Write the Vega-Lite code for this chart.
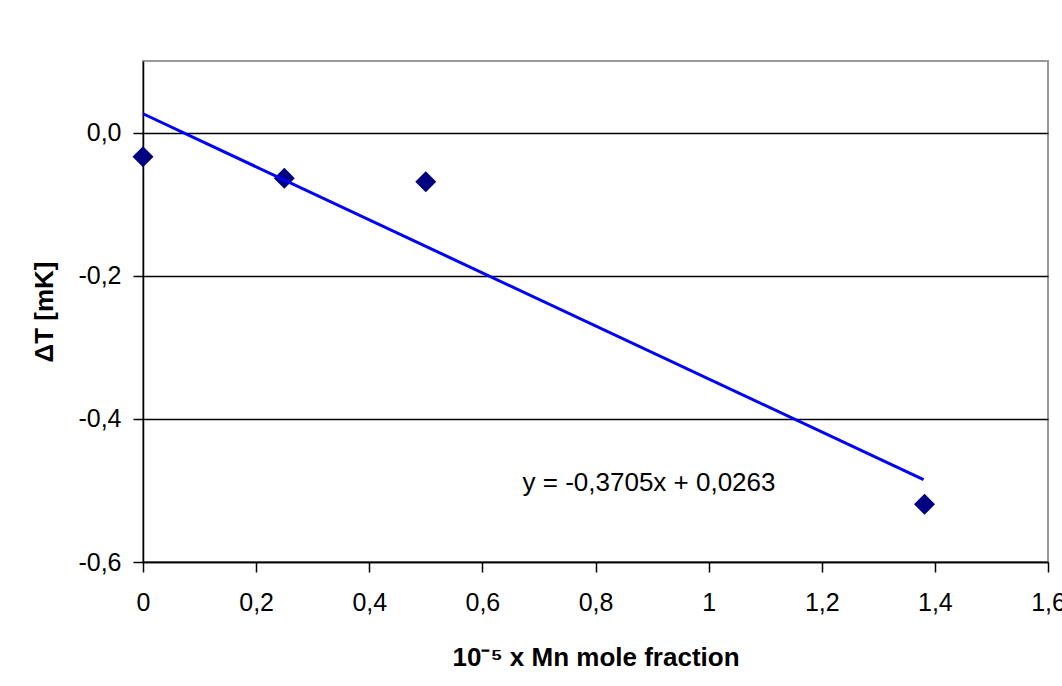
{
  "$schema": "https://vega.github.io/schema/vega-lite/v6.json",
  "width": 905,
  "height": 501,
  "autosize": {"type": "none"},
  "padding": {"left": 143, "top": 61, "right": 14, "bottom": 124},
  "background": "white",
  "config": {
    "locale": {"number": {"decimal": ",", "thousands": ".", "grouping": [3], "currency": ["", " €"], "minus": "-"}},
    "font": "Liberation Sans",
    "view": {"stroke": "#999999", "strokeWidth": 2},
    "axis": {"labelFont": "Liberation Sans", "titleFont": "Liberation Sans", "labelColor": "#000000", "titleColor": "#000000", "domainColor": "#000000", "tickColor": "#000000", "labelFontSize": 25, "titleFontSize": 26, "titleFontWeight": "bold", "domainWidth": 1.5, "tickWidth": 1.5}
  },
  "datasets": {
    "points": [
      {"x": 0, "y": -0.0337},
      {"x": 0.2498, "y": -0.0639},
      {"x": 0.4999, "y": -0.0686},
      {"x": 1.3817, "y": -0.5194}
    ],
    "trend": [
      {"x": 0, "y": 0.0263},
      {"x": 1.38, "y": -0.485}
    ],
    "label": [
      {"x": 0.8946, "y": -0.4896, "text": "y = -0,3705x + 0,0263"}
    ]
  },
  "layer": [
    {
      "data": {"name": "points"},
      "mark": {"type": "point", "shape": "diamond", "filled": true, "color": "#000080", "size": 440, "opacity": 1},
      "encoding": {
        "x": {"field": "x", "type": "quantitative", "scale": {"domain": [0, 1.6], "nice": false, "zero": false},
          "axis": {"title": "10⁻⁵ x Mn mole fraction", "values": [0, 0.2, 0.4, 0.6, 0.8, 1, 1.2, 1.4, 1.6], "format": ".1~f", "grid": false, "tickSize": 10, "labelPadding": 18, "titlePadding": 29, "labelFlush": false}},
        "y": {"field": "y", "type": "quantitative", "scale": {"domain": [-0.6, 0.1], "nice": false, "zero": false},
          "axis": {"title": "ΔT [mK]", "values": [-0.6, -0.4, -0.2, 0], "format": ".1f", "grid": true, "gridColor": "#000000", "gridOpacity": 1, "gridWidth": 1.5, "tickSize": 10, "labelPadding": 12, "titlePadding": 20, "labelFlush": false}}
      }
    },
    {
      "data": {"name": "trend"},
      "mark": {"type": "line", "color": "#0000FF", "strokeWidth": 3},
      "encoding": {
        "x": {"field": "x", "type": "quantitative"},
        "y": {"field": "y", "type": "quantitative"}
      }
    },
    {
      "data": {"name": "label"},
      "mark": {"type": "text", "fontSize": 26, "font": "Liberation Sans", "color": "#000000", "align": "center", "baseline": "middle"},
      "encoding": {
        "x": {"field": "x", "type": "quantitative"},
        "y": {"field": "y", "type": "quantitative"},
        "text": {"field": "text"}
      }
    }
  ]
}
